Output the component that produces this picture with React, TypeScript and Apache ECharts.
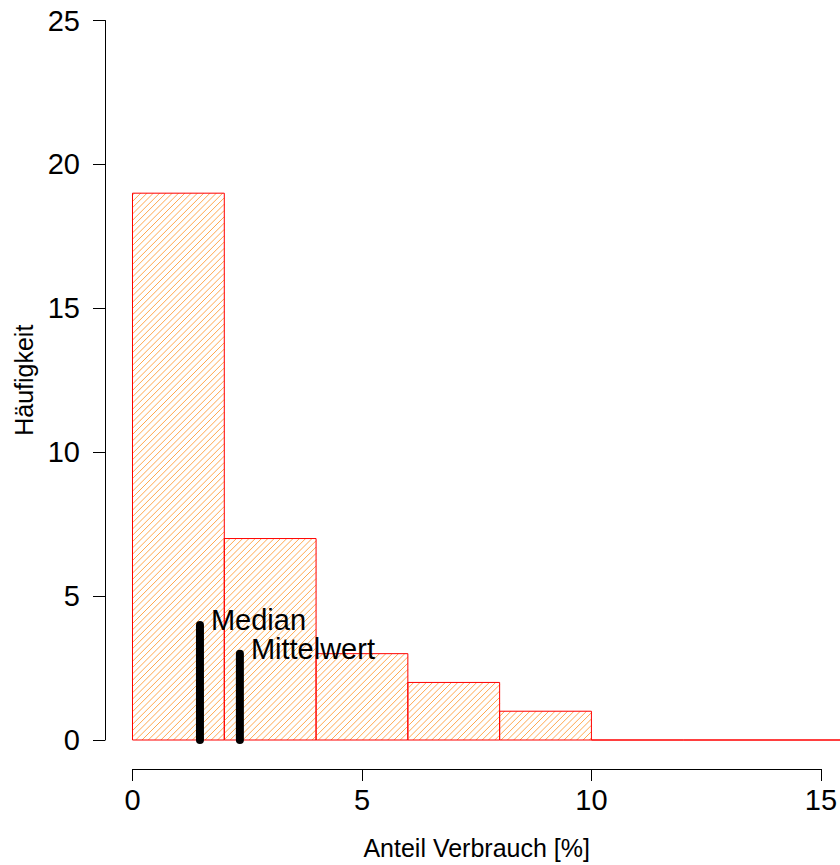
import React, { useEffect, useRef } from "react";
import * as echarts from "echarts";

// Histogram bins (Anteil Verbrauch [%]) and counts
const binStarts = [0, 2, 4, 6, 8, 10, 12, 14];
const binEnds = [2, 4, 6, 8, 10, 12, 14, 16];
const counts = [19, 7, 3, 2, 1, 0, 0, 0];

// Summary statistics: position and marker height
const statNames = ["Median", "Mittelwert"];
const statValues = [1.47, 2.34];
const statHeights = [4, 3];

const xTicks = { min: 0, max: 15, interval: 5 };
const yTicks = { min: 0, max: 25, interval: 5 };

const FONT = "'Liberation Sans', Arial, Helvetica, sans-serif";

export default function App() {
  const ref = useRef<HTMLDivElement>(null);

  useEffect(() => {
    if (!ref.current) return;
    const chart = echarts.init(ref.current, null, { renderer: "svg" });

    const barData = binStarts.map((s, i) => [s, binEnds[i], counts[i]]);
    const statData = statValues.map((v, i) => [v, statHeights[i], statNames[i]]);

    const spacing = 6.3;

    const option: any = {
      animation: false,
      backgroundColor: "#ffffff",
      grid: { left: 132.5, top: 20.5, width: 690, height: 723, containLabel: false },
      xAxis: {
        type: "value",
        min: xTicks.min,
        max: xTicks.max,
        interval: xTicks.interval,
        offset: 29,
        axisLine: { show: true, onZero: false, lineStyle: { color: "#000", width: 1 } },
        axisTick: { show: true, length: 12, lineStyle: { color: "#000", width: 1 } },
        splitLine: { show: false },
        axisLabel: { fontSize: 29, color: "#000", fontFamily: FONT, margin: 16 },
        name: "Anteil Verbrauch [%]",
        nameLocation: "middle",
        nameGap: 66,
        nameTextStyle: { fontSize: 25, color: "#000", fontFamily: FONT },
      },
      yAxis: {
        type: "value",
        min: yTicks.min,
        max: yTicks.max,
        interval: yTicks.interval,
        offset: 27.5,
        axisLine: { show: true, onZero: false, lineStyle: { color: "#000", width: 1 } },
        axisTick: { show: true, length: 12, lineStyle: { color: "#000", width: 1 } },
        splitLine: { show: false },
        axisLabel: { fontSize: 29, color: "#000", fontFamily: FONT, margin: 25 },
        name: "Häufigkeit",
        nameLocation: "middle",
        nameGap: 65,
        nameRotate: 90,
        nameTextStyle: { fontSize: 25, color: "#000", fontFamily: FONT },
      },
      series: [
        {
          type: "custom",
          clip: false,
          data: barData,
          renderItem: (params: any, api: any) => {
            const s = api.value(0);
            const e = api.value(1);
            const c = api.value(2);
            const p0 = api.coord([s, c]);
            const p1 = api.coord([e, 0]);
            const x0 = p0[0], y0 = p0[1], x1 = p1[0], y1 = p1[1];
            const children: any[] = [];
            if (y1 - y0 > 0.5) {
              const cMin = x0 + y0;
              const cMax = x1 + y1;
              const kStart = Math.ceil(cMin / spacing);
              const kEnd = Math.floor(cMax / spacing);
              for (let k = kStart; k <= kEnd; k++) {
                const cc = k * spacing;
                const xa = Math.max(x0, cc - y1);
                const xb = Math.min(x1, cc - y0);
                if (xb - xa <= 0.01) continue;
                children.push({
                  type: "line",
                  silent: true,
                  shape: { x1: xa, y1: cc - xa, x2: xb, y2: cc - xb },
                  style: { stroke: "#FFA850", lineWidth: 1 },
                });
              }
            }
            children.push({
              type: "rect",
              shape: { x: x0, y: y0, width: x1 - x0, height: y1 - y0 },
              style: { fill: "none", stroke: "#FF0000", lineWidth: 1 },
            });
            return { type: "group", children };
          },
          z: 2,
        },
        {
          type: "custom",
          clip: false,
          data: statData,
          renderItem: (params: any, api: any) => {
            const v = api.value(0);
            const h = api.value(1);
            const name = statNames[params.dataIndex];
            const top = api.coord([v, h]);
            const bot = api.coord([v, 0]);
            return {
              type: "group",
              children: [
                {
                  type: "line",
                  shape: { x1: bot[0], y1: bot[1], x2: top[0], y2: top[1] },
                  style: { stroke: "#000", lineWidth: 8, lineCap: "round" },
                },
                {
                  type: "text",
                  x: top[0] + 11,
                  y: top[1] - 5,
                  style: {
                    text: name,
                    fontSize: 29,
                    fontFamily: FONT,
                    fill: "#000",
                    align: "left",
                    verticalAlign: "middle",
                  },
                },
              ],
            };
          },
          z: 3,
        },
      ],
    };

    chart.setOption(option);
    return () => chart.dispose();
  }, []);

  return (
    <div
      ref={ref}
      style={{ position: "fixed", left: 0, top: 0, width: 840, height: 865, background: "#fff" }}
    />
  );
}
